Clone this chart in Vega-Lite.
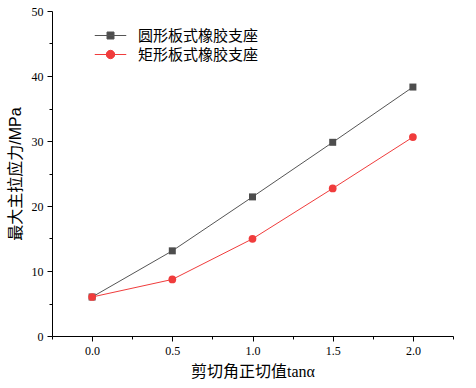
{
  "$schema": "https://vega.github.io/schema/vega-lite/v6.json",
  "width": 401,
  "height": 325,
  "autosize": {"type": "none"},
  "padding": {"left": 52, "top": 11, "right": 23, "bottom": 52},
  "background": "white",
  "config": {
    "view": {"stroke": null},
    "axis": {"grid": false, "domainColor": "black", "tickColor": "black", "labelColor": "black", "titleColor": "black", "labelFont": "Liberation Serif", "labelFontSize": 12}
  },
  "data": {
    "values": [
      {"x": 0.0, "y": 6.0, "s": "圆形板式橡胶支座"},
      {"x": 0.5, "y": 13.1, "s": "圆形板式橡胶支座"},
      {"x": 1.0, "y": 21.4, "s": "圆形板式橡胶支座"},
      {"x": 1.5, "y": 29.8, "s": "圆形板式橡胶支座"},
      {"x": 2.0, "y": 38.3, "s": "圆形板式橡胶支座"},
      {"x": 0.0, "y": 6.0, "s": "矩形板式橡胶支座"},
      {"x": 0.5, "y": 8.7, "s": "矩形板式橡胶支座"},
      {"x": 1.0, "y": 14.95, "s": "矩形板式橡胶支座"},
      {"x": 1.5, "y": 22.7, "s": "矩形板式橡胶支座"},
      {"x": 2.0, "y": 30.6, "s": "矩形板式橡胶支座"}
    ]
  },
  "layer": [
    {
      "mark": {"type": "line", "strokeWidth": 1},
      "encoding": {
        "x": {"field": "x", "type": "quantitative", "scale": {"domain": [-0.25, 2.25], "nice": false, "zero": false},
          "axis": {"orient": "bottom", "values": [-0.25, 0.25, 0.75, 1.25, 1.75, 2.25], "labels": false, "domain": false, "tickSize": 3, "title": null}},
        "y": {"field": "y", "type": "quantitative", "scale": {"domain": [0, 50], "nice": false},
          "axis": {"orient": "left", "values": [5, 15, 25, 35, 45], "labels": false, "domain": false, "tickSize": 3, "title": null}},
        "stroke": {"field": "s", "type": "nominal", "scale": {"domain": ["圆形板式橡胶支座", "矩形板式橡胶支座"], "range": ["#555555", "#f03c3c"]},
          "legend": {"title": null, "orient": "none", "legendX": 51, "legendY": 17, "labelFont": "Noto Sans CJK SC", "labelFontSize": 15, "labelColor": "black", "labelOffset": 20, "rowPadding": 3, "symbolSize": 49, "symbolStrokeWidth": 1, "symbolOpacity": 1}},
        "detail": {"field": "s"}
      }
    },
    {
      "mark": {"type": "point", "filled": true, "size": 0, "opacity": 1, "fillOpacity": 1, "strokeOpacity": 1},
      "encoding": {
        "x": {"field": "x", "type": "quantitative",
          "axis": {"orient": "bottom", "values": [0, 0.5, 1, 1.5, 2], "format": ".1f", "tickSize": 5, "labelPadding": 4, "title": "剪切角正切值tanα", "titleFont": "Liberation Serif, Noto Sans CJK SC", "titleFontSize": 16, "titleFontWeight": "normal", "titlePadding": 7}},
        "y": {"field": "y", "type": "quantitative",
          "axis": {"orient": "left", "values": [0, 10, 20, 30, 40, 50], "tickSize": 5, "labelPadding": 4, "title": "最大主拉应力/MPa", "titleFont": "Liberation Sans, Noto Sans CJK SC", "titleFontSize": 16, "titleFontWeight": "normal", "titlePadding": 8}},
        "fill": {"field": "s", "type": "nominal", "scale": {"domain": ["圆形板式橡胶支座", "矩形板式橡胶支座"], "range": ["#4d4d4d", "#f03c3c"]},
          "legend": {"title": null, "orient": "none", "legendX": 51, "legendY": 17, "labelFont": "Noto Sans CJK SC", "labelFontSize": 15, "labelColor": "black", "labelOffset": 20, "rowPadding": 3, "symbolSize": 49, "symbolStrokeWidth": 1, "symbolOpacity": 1}},
        "stroke": {"field": "s", "type": "nominal"},
        "shape": {"field": "s", "type": "nominal", "scale": {"domain": ["圆形板式橡胶支座", "矩形板式橡胶支座"], "range": ["M-4.5,0H4.5M-1,-1H1V1H-1Z", "M-4.5,0H4.5M-1.2,0A1.2,1.2,0,1,1,1.2,0A1.2,1.2,0,1,1,-1.2,0Z"]}}
      }
    },
    {
      "transform": [{"filter": "datum.s === '圆形板式橡胶支座'"}],
      "mark": {"type": "point", "filled": true, "opacity": 1, "shape": "square", "size": 49, "color": "#4d4d4d"},
      "encoding": {
        "x": {"field": "x", "type": "quantitative", "axis": null},
        "y": {"field": "y", "type": "quantitative", "axis": null}
      }
    },
    {
      "transform": [{"filter": "datum.s === '矩形板式橡胶支座'"}],
      "mark": {"type": "point", "filled": true, "opacity": 1, "shape": "circle", "size": 60, "color": "#f03c3c"},
      "encoding": {
        "x": {"field": "x", "type": "quantitative", "axis": null},
        "y": {"field": "y", "type": "quantitative", "axis": null}
      }
    }
  ],
  "resolve": {"axis": {"x": "independent", "y": "independent"}}
}
